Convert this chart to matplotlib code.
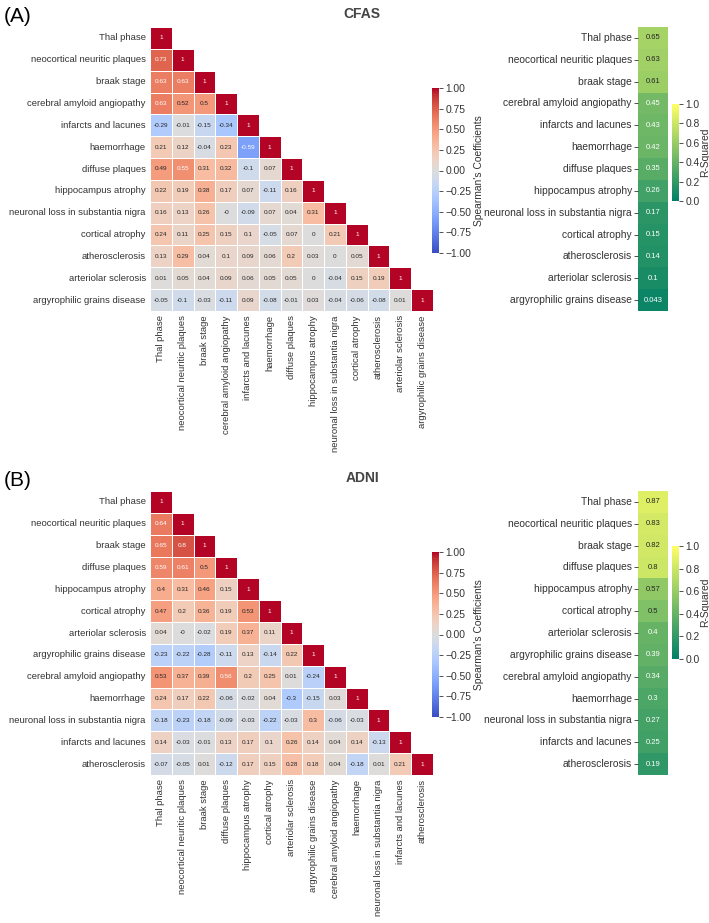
import numpy as np
import matplotlib.pyplot as plt
import seaborn as sns

# CFAS cohort
cfas_labels = ["Thal phase", "neocortical neuritic plaques", "braak stage",
               "cerebral amyloid angiopathy", "infarcts and lacunes", "haemorrhage",
               "diffuse plaques", "hippocampus atrophy", "neuronal loss in substantia nigra",
               "cortical atrophy", "atherosclerosis", "arteriolar sclerosis",
               "argyrophilic grains disease"]
cfas_rows = [
    [1],
    [0.73, 1],
    [0.63, 0.63, 1],
    [0.63, 0.52, 0.5, 1],
    [-0.29, -0.01, -0.15, -0.34, 1],
    [0.21, 0.12, -0.04, 0.23, -0.59, 1],
    [0.49, 0.55, 0.31, 0.32, -0.1, 0.07, 1],
    [0.22, 0.19, 0.38, 0.17, 0.07, -0.11, 0.16, 1],
    [0.16, 0.13, 0.26, -0.0, -0.09, 0.07, 0.04, 0.31, 1],
    [0.24, 0.11, 0.25, 0.15, 0.1, -0.05, 0.07, 0.0, 0.21, 1],
    [0.13, 0.29, 0.04, 0.1, 0.09, 0.06, 0.2, 0.03, 0.0, 0.05, 1],
    [0.01, 0.05, 0.04, 0.09, 0.06, 0.05, 0.05, 0.0, -0.04, 0.15, 0.19, 1],
    [-0.05, -0.1, -0.03, -0.11, 0.09, -0.08, -0.01, 0.03, -0.04, -0.06, -0.08, 0.01, 1],
]
cfas_r2 = [0.65, 0.63, 0.61, 0.45, 0.43, 0.42, 0.35, 0.26, 0.17, 0.15, 0.14, 0.1, 0.043]

# ADNI cohort
adni_labels = ["Thal phase", "neocortical neuritic plaques", "braak stage",
               "diffuse plaques", "hippocampus atrophy", "cortical atrophy",
               "arteriolar sclerosis", "argyrophilic grains disease",
               "cerebral amyloid angiopathy", "haemorrhage",
               "neuronal loss in substantia nigra", "infarcts and lacunes",
               "atherosclerosis"]
adni_rows = [
    [1],
    [0.64, 1],
    [0.65, 0.8, 1],
    [0.59, 0.61, 0.5, 1],
    [0.4, 0.31, 0.46, 0.15, 1],
    [0.47, 0.2, 0.36, 0.19, 0.53, 1],
    [0.04, -0.0, -0.02, 0.19, 0.37, 0.11, 1],
    [-0.23, -0.22, -0.28, -0.11, 0.13, -0.14, 0.22, 1],
    [0.53, 0.37, 0.39, 0.56, 0.2, 0.25, 0.01, -0.24, 1],
    [0.24, 0.17, 0.22, -0.06, -0.02, 0.04, -0.3, -0.15, 0.03, 1],
    [-0.18, -0.23, -0.18, -0.09, -0.03, -0.22, -0.03, 0.3, -0.06, -0.03, 1],
    [0.14, -0.03, -0.01, 0.13, 0.17, 0.1, 0.26, 0.14, 0.04, 0.14, -0.13, 1],
    [-0.07, -0.05, 0.01, -0.12, 0.17, 0.15, 0.28, 0.18, 0.04, -0.18, 0.01, 0.21, 1],
]
adni_r2 = [0.87, 0.83, 0.82, 0.8, 0.57, 0.5, 0.4, 0.39, 0.34, 0.3, 0.27, 0.25, 0.19]

plt.rcParams['font.family'] = ['Liberation Sans', 'DejaVu Sans']
TXT = '#333333'
FS = 6.8      # correlation heatmap labels
FS_R = 7.4    # R-squared column labels

W, H = 709, 923
fig = plt.figure(figsize=(W / 100, H / 100), dpi=100)


def box(x0, y0, x1, y1):
    # pixel box -> figure fraction
    return [x0 / W, 1 - y1 / H, (x1 - x0) / W, (y1 - y0) / H]


def lower_matrix(rows):
    n = len(rows)
    m = np.full((n, n), np.nan)
    for i, r in enumerate(rows):
        m[i, :len(r)] = r
    return m


def style_cbar(cax, label, size, pad):
    cax.tick_params(labelsize=size, colors=TXT, length=3, width=0.6, pad=1.5)
    for s in cax.spines.values():
        s.set_visible(False)
    cax.set_ylabel(label, fontsize=size, color=TXT, labelpad=pad)


def panel(top, letter, title, labels, rows, r2, r2_cbar):
    fig.text(4 / W, 1 - (top - 10) / H, letter, fontsize=15, va='center', ha='left')
    fig.text(362 / W, 1 - (top - 13) / H, title, fontsize=10, weight='bold',
             color='#444444', ha='center', va='center')

    ax = fig.add_axes(box(150, top, 433, top + 284))
    cax = fig.add_axes(box(432, top + 61, 439, top + 226))
    mat = lower_matrix(rows)
    sns.heatmap(mat, ax=ax, cbar_ax=cax, cmap='coolwarm', vmin=-1, vmax=1,
                mask=np.isnan(mat), annot=True, fmt='.2g',
                annot_kws={'size': 4.6}, linewidths=0.5, linecolor='white',
                xticklabels=labels, yticklabels=labels, square=False)
    ax.tick_params(length=0, labelsize=FS, colors=TXT, pad=3)
    ax.set_xticklabels(labels, rotation=90)
    ax.set_yticklabels(labels, rotation=0)
    cax.set_yticks(np.arange(-1, 1.01, 0.25))
    cax.set_yticklabels([f'{v:.2f}'.replace('-', '\u2212') for v in np.arange(-1, 1.01, 0.25)])
    style_cbar(cax, "Spearman's Coefficients", FS + 0.6, 2)

    rax = fig.add_axes(box(638, top, 668, top + 284))
    rcax = fig.add_axes(box(672, r2_cbar[0], 679, r2_cbar[1]))
    sns.heatmap(np.array(r2).reshape(-1, 1), ax=rax, cbar_ax=rcax, cmap='summer',
                vmin=0, vmax=1, annot=True, fmt='.2g', annot_kws={'size': 5.5},
                xticklabels=False, yticklabels=labels)
    rax.tick_params(axis='y', length=3, width=0.6, labelsize=FS_R, colors=TXT, pad=1.5)
    rax.set_yticklabels(labels, rotation=0)
    rcax.set_yticks(np.arange(0, 1.01, 0.2))
    style_cbar(rcax, 'R-Squared', FS_R, 0.5)


panel(27, '(A)', 'CFAS', cfas_labels, cfas_rows, cfas_r2, (104, 201))
panel(491, '(B)', 'ADNI', adni_labels, adni_rows, adni_r2, (546, 659))

fig.savefig('out.png', dpi=100)
